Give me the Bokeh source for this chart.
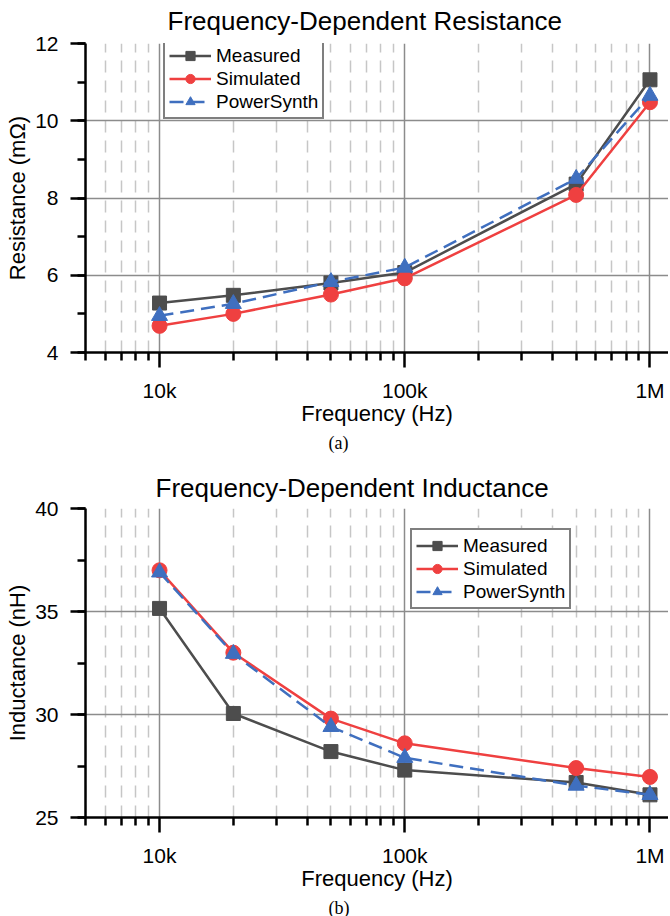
from bokeh.plotting import figure
from bokeh.models import (Range1d, FixedTicker, SingleIntervalTicker, Legend,
                          LegendItem, Title)
from bokeh.layouts import column
from bokeh.embed import file_html
from bokeh.resources import INLINE

# ---------------- data ----------------
freq = [10e3, 20e3, 50e3, 100e3, 500e3, 1e6]

res_measured = [5.28, 5.48, 5.80, 6.07, 8.36, 11.06]
res_simulated = [4.69, 5.00, 5.50, 5.92, 8.08, 10.48]
res_powersynth = [4.95, 5.26, 5.83, 6.20, 8.50, 10.65]

ind_measured = [35.15, 30.05, 28.20, 27.30, 26.70, 26.10]
ind_simulated = [37.00, 33.00, 29.80, 28.60, 27.40, 26.97]
ind_powersynth = [36.90, 32.95, 29.40, 27.90, 26.55, 26.10]

series_names = ["Measured", "Simulated", "PowerSynth"]
x_major = [10000, 100000, 1000000]
x_labels = {10000: "10k", 100000: "100k", 1000000: "1M"}
x_minor = [m * 10 ** e for e in (3, 4, 5) for m in range(2, 10)]

FONT = "Liberation Sans"
COLORS = ["#4d4d4d", "#ef4040", "#3f6fbf"]
MARKERS = ["square", "circle", "triangle"]
MSIZES = [14, 15, 16]
DASHES = ["solid", "solid", "14 7"]

FW, FH = 583, 309
LEFT = 85


def make_panel(title, title_offset, title_standoff, title_valign, ylabel,
               yvals, yrange, ystep, ygrid, caption, top_border,
               bottom_border, legend_loc):
    x0, x1 = 4990, 1.19e6
    p = figure(width=LEFT + FW, height=top_border + FH + bottom_border,
               frame_width=FW, frame_height=FH,
               x_axis_type="log",
               x_range=Range1d(x0, x1), y_range=Range1d(*yrange),
               output_backend="svg", toolbar_location=None,
               min_border_left=LEFT, min_border_right=0,
               min_border_top=top_border, min_border_bottom=bottom_border)
    p.outline_line_color = None
    p.background_fill_color = "white"

    p.title = Title(text=title, align="left", offset=title_offset,
                    text_font=FONT, text_font_size="26px",
                    text_font_style="normal", text_color="black",
                    vertical_align=title_valign, standoff=title_standoff)

    minor = [v for v in x_minor if x0 <= v <= x1]
    p.xaxis.ticker = FixedTicker(ticks=x_major, minor_ticks=minor)
    p.xaxis.major_label_overrides = x_labels
    p.yaxis.ticker = SingleIntervalTicker(interval=ystep, num_minor_ticks=2)

    for ax in (p.xaxis[0], p.yaxis[0]):
        ax.axis_line_width = 2.5
        ax.axis_line_color = "black"
        ax.major_tick_line_width = 2.5
        ax.minor_tick_line_width = 2.5
        ax.major_tick_out = 15
        ax.major_tick_in = 0
        ax.minor_tick_out = 8
        ax.minor_tick_in = 0
        ax.major_label_text_font = FONT
        ax.major_label_text_font_size = "21px"
        ax.major_label_text_color = "black"
        ax.axis_label_text_font = FONT
        ax.axis_label_text_font_size = "22px"
        ax.axis_label_text_font_style = "normal"
        ax.axis_label_text_color = "black"
    p.xaxis.major_label_standoff = 11
    p.xaxis.axis_label_standoff = -4
    p.yaxis.major_label_standoff = 12
    p.yaxis.axis_label_standoff = 2
    p.xaxis.axis_label = "Frequency (Hz)"
    p.yaxis.axis_label = ylabel

    p.xgrid.ticker = FixedTicker(ticks=x_major, minor_ticks=minor)
    p.xgrid.grid_line_color = "#8c8c8c"
    p.xgrid.grid_line_width = 1.5
    p.xgrid.minor_grid_line_color = "#c6c6c6"
    p.xgrid.minor_grid_line_width = 1.5
    p.xgrid.minor_grid_line_dash = "12 8"
    p.ygrid.ticker = FixedTicker(ticks=ygrid)
    p.ygrid.grid_line_color = "#8c8c8c"
    p.ygrid.grid_line_width = 1.5

    items = []
    for name, vals, col, mk, ms, dash in zip(series_names, yvals, COLORS,
                                             MARKERS, MSIZES, DASHES):
        ln = p.line(freq, vals, line_color=col, line_width=2.5, line_dash=dash)
        sc = p.scatter(freq, vals, marker=mk, size=ms, fill_color=col,
                       line_color=col)
        items.append(LegendItem(label=name, renderers=[ln, sc]))

    legend = Legend(items=items, location=legend_loc,
                    label_text_font=FONT, label_text_font_size="19px",
                    label_text_color="black",
                    glyph_width=42, glyph_height=23, label_height=23,
                    label_standoff=5, spacing=0, padding=4, margin=0,
                    border_line_color="black", border_line_width=2.5,
                    background_fill_color="white", background_fill_alpha=1.0)
    p.add_layout(legend, "center")

    p.add_layout(Title(text=caption, align="left", offset=243,
                       text_font="Liberation Serif", text_font_size="18px",
                       text_font_style="normal", text_color="black",
                       standoff=4), "below")
    return p


p1 = make_panel("Frequency-Dependent Resistance", 82, 11, "top",
                "Resistance (mΩ)",
                [res_measured, res_simulated, res_powersynth], (4, 12), 2,
                [4, 6, 8, 10], "(a)", 43, 99, (78, 233))
p2 = make_panel("Frequency-Dependent Inductance", 70, 11, "bottom",
                "Inductance (nH)",
                [ind_measured, ind_simulated, ind_powersynth], (25, 40), 5,
                [25, 30, 35], "(b)", 54, 99, (325, 208))

layout = column(p1, p2, spacing=0)
open("out.html", "w").write(file_html(layout, INLINE))
